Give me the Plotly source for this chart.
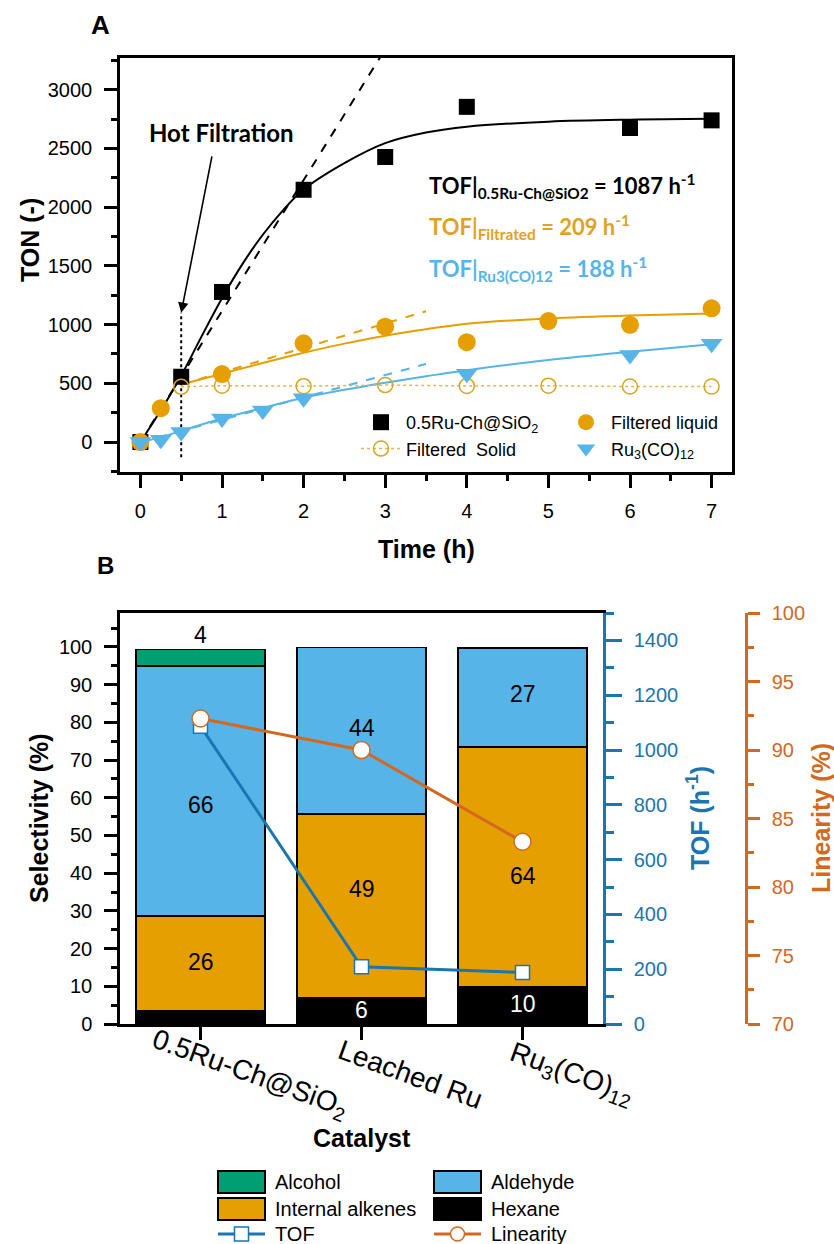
import plotly.graph_objects as go

W, H = 834, 1244
def fx(px):
    return px / W
def fy(py):
    return 1 - py / H

# ---------------- Panel A data ----------------
t_ru = [0, 0.5, 1, 2, 3, 4, 6, 7]
ton_ru = [0, 556, 1278, 2148, 2427, 2854, 2674, 2739]
t_liq = [0, 0.25, 1, 2, 3, 4, 5, 6, 7]
ton_liq = [0, 288, 579, 841, 982, 850, 1030, 998, 1139]
t_sol = [0.5, 1, 2, 3, 4, 5, 6, 7]
ton_sol = [470, 480, 476, 485, 478, 480, 473, 472]
t_ru3 = [0, 0.25, 0.5, 1, 1.5, 2, 4, 6, 7]
ton_ru3 = [0, 20, 85, 200, 268, 372, 582, 742, 836]

fit_ru_t = [0, 0.25, 0.5, 0.75, 1, 1.25, 1.5, 1.75, 2, 2.5, 3, 3.5, 4, 5, 6, 7]
fit_ru_ton = [0, 270, 565, 900, 1225, 1515, 1765, 1975, 2150, 2375, 2545, 2635, 2685, 2728, 2745, 2752]
fit_liq_t = [0.5, 1, 1.5, 2, 2.5, 3, 3.5, 4, 5, 6, 7]
fit_liq_ton = [490, 582, 673, 760, 838, 905, 960, 1008, 1052, 1078, 1095]
fit_ru3_t = [0, 0.25, 0.5, 1, 1.5, 2, 2.5, 3, 3.5, 4, 5, 6, 7]
fit_ru3_ton = [0, 42, 95, 200, 290, 378, 445, 505, 560, 612, 698, 768, 832]

tan_ru_t = [0, 2.95]
tan_ru_ton = [0, 3290]
tan_liq_t = [0.5, 3.5]
tan_liq_ton = [490, 1114]
tan_ru3_t = [0, 3.5]
tan_ru3_ton = [0, 665]

hot_filtration_t = 0.5
hot_line_ton = [-130, 1100]
hot_arrow_tail = (0.88, 2445)
tof_a = {"ru": 1087, "filt": 209, "ru3": 188}

# ---------------- Panel B data ----------------
catalysts = ["0.5Ru-Ch@SiO<sub>2</sub>", "Leached Ru", "Ru<sub>3</sub>(CO)<sub>12</sub>"]
hexane = [3.4, 6.9, 9.9]
alkenes = [25.2, 48.8, 63.5]
aldehyde = [66.4, 44.2, 26.3]
alcohol = [4.3, 0, 0]
hexane_lbl = ["", "6", "10"]
alkenes_lbl = ["26", "49", "64"]
aldehyde_lbl = ["66", "44", "27"]
alcohol_lbl = ["4", "", ""]
tof_b = [1087, 209, 188]
linearity = [92.3, 90.0, 83.3]

# label placement (selectivity units, layout only)
hexane_lbl_pos = [None, 3.8, 5.3]
alkenes_lbl_pos = [16.5, 35.8, 39.3]
aldehyde_lbl_pos = [58.2, 78.5, 87.4]

# ---------------- styles ----------------
BLACK = "black"
ORANGE = "#E69F00"
SKY = "#56B4E9"
GREEN = "#009E73"
TOFBLUE = "#1A75B0"
LINORG = "#D2691E"
FONT = "Liberation Sans, Arial, sans-serif"
TFONT = "Lato, Open Sans, sans-serif"

fig = go.Figure()

# ---- Panel A traces ----
fig.add_trace(go.Scatter(x=tan_ru_t, y=tan_ru_ton, mode="lines",
                         line=dict(color=BLACK, width=2, dash="dash"), showlegend=False))
fig.add_trace(go.Scatter(x=tan_liq_t, y=tan_liq_ton, mode="lines",
                         line=dict(color=ORANGE, width=2, dash="dash"), showlegend=False))
fig.add_trace(go.Scatter(x=tan_ru3_t, y=tan_ru3_ton, mode="lines",
                         line=dict(color=SKY, width=2, dash="dash"), showlegend=False))
fig.add_trace(go.Scatter(x=fit_ru_t, y=fit_ru_ton, mode="lines", line_shape="spline",
                         line=dict(color=BLACK, width=2), showlegend=False))
fig.add_trace(go.Scatter(x=fit_liq_t, y=fit_liq_ton, mode="lines", line_shape="spline",
                         line=dict(color=ORANGE, width=2), showlegend=False))
fig.add_trace(go.Scatter(x=fit_ru3_t, y=fit_ru3_ton, mode="lines", line_shape="spline",
                         line=dict(color=SKY, width=2), showlegend=False))
fig.add_trace(go.Scatter(x=[hot_filtration_t, hot_filtration_t], y=hot_line_ton, mode="lines",
                         line=dict(color=BLACK, width=2, dash="dot"), showlegend=False))

fig.add_trace(go.Scatter(x=t_ru, y=ton_ru, mode="markers", name="0.5Ru-Ch@SiO<sub>2</sub>",
                         marker=dict(symbol="square", size=16, color=BLACK),
                         legend="legend"))
fig.add_trace(go.Scatter(x=t_sol, y=ton_sol, mode="lines+markers", name="Filtered\u00a0 Solid",
                         line=dict(color="#E3B64F", width=1.5, dash="dot"),
                         marker=dict(symbol="circle-open", size=15, color="#D9A520", line=dict(width=1.5)),
                         legend="legend"))
fig.add_trace(go.Scatter(x=t_liq, y=ton_liq, mode="markers", name="Filtered liquid",
                         marker=dict(symbol="circle", size=18, color=ORANGE),
                         legend="legend2"))
fig.add_trace(go.Scatter(x=t_ru3, y=ton_ru3, mode="markers", name="Ru<sub>3</sub>(CO)<sub>12</sub>",
                         marker=dict(symbol="triangle-down", size=19, color=SKY),
                         legend="legend2"))

# ---- Panel B traces ----
xb = list(range(len(catalysts)))
for vals, col in [(hexane, BLACK), (alkenes, ORANGE), (aldehyde, SKY), (alcohol, GREEN)]:
    fig.add_trace(go.Bar(x=xb, y=vals, width=0.8, xaxis="x2", yaxis="y2",
                         marker=dict(color=col, line=dict(color=BLACK, width=1.5)),
                         showlegend=False))
fig.add_trace(go.Scatter(x=xb, y=tof_b, xaxis="x2", yaxis="y3", mode="lines+markers",
                         line=dict(color=TOFBLUE, width=3),
                         marker=dict(symbol="square", size=14, color="white",
                                     line=dict(color=TOFBLUE, width=1.5)),
                         showlegend=False))
fig.add_trace(go.Scatter(x=xb, y=linearity, xaxis="x2", yaxis="y4", mode="lines+markers",
                         line=dict(color=LINORG, width=3),
                         marker=dict(symbol="circle", size=17, color="white",
                                     line=dict(color=LINORG, width=1.5)),
                         showlegend=False))

annotations = []
# bar labels
for i in xb:
    for lbls, pos, c in [(hexane_lbl, hexane_lbl_pos, "white"),
                         (alkenes_lbl, alkenes_lbl_pos, BLACK),
                         (aldehyde_lbl, aldehyde_lbl_pos, BLACK)]:
        if lbls[i]:
            annotations.append(dict(x=i, y=pos[i], xref="x2", yref="y2", text=lbls[i],
                                    showarrow=False, font=dict(family=FONT, size=23, color=c)))
    if alcohol_lbl[i]:
        top = hexane[i] + alkenes[i] + aldehyde[i] + alcohol[i]
        annotations.append(dict(x=i, y=top, xref="x2", yref="y2", text=alcohol_lbl[i],
                                showarrow=False, yanchor="bottom", yshift=0,
                                font=dict(family=FONT, size=23, color=BLACK)))
# category labels
for i, c in enumerate(catalysts):
    annotations.append(dict(x=i, y=0, xref="x2", yref="y2", text=c, showarrow=False,
                            textangle=20, xshift=49, yshift=-50,
                            font=dict(family=FONT, size=28, color=BLACK)))

# titles
def ptext(x, y, text, size, color=BLACK, angle=0, bold=True, family=FONT, xanchor="center"):
    annotations.append(dict(x=fx(x), y=fy(y), xref="paper", yref="paper", text=text,
                            showarrow=False, textangle=angle, xanchor=xanchor, yanchor="middle",
                            font=dict(family=family, size=size, color=color,
                                      weight="bold" if bold else "normal")))

ptext(100, 25, "A", 26)
ptext(106, 565, "B", 24)
ptext(426, 549, "Time (h)", 25)
ptext(30, 240, "TON (-)", 25, angle=-90)
ptext(39, 818, "Selectivity (%)", 25, angle=-90)
ptext(362, 1138, "Catalyst", 25)
ptext(698, 818, "TOF (h<sup>-1</sup>)", 25, color=TOFBLUE, angle=-90)
ptext(821, 818, "Linearity (%)", 25, color=LINORG, angle=-90)
ptext(221, 132, "Hot Filtration", 24, family=TFONT)
ptext(427, 186, f"TOF|<sub>0.5Ru-Ch@SiO2</sub> = {tof_a['ru']} h<sup>-1</sup>", 22,
      family=TFONT, xanchor="left")
ptext(427, 227, f"TOF|<sub>Filtrated</sub> = {tof_a['filt']} h<sup>-1</sup>", 22,
      color="#E2A124", family=TFONT, xanchor="left")
ptext(427, 269, f"TOF|<sub>Ru3(CO)12</sub> = {tof_a['ru3']} h<sup>-1</sup>", 22,
      color=SKY, family=TFONT, xanchor="left")

# hot filtration arrow
annotations.append(dict(x=hot_filtration_t, y=hot_line_ton[1], xref="x", yref="y",
                        ax=hot_arrow_tail[0], ay=hot_arrow_tail[1], axref="x", ayref="y",
                        text="", showarrow=True, arrowhead=2, arrowsize=1.3, arrowwidth=1.6,
                        arrowcolor=BLACK))

# ---- Panel B manual legend ----
shapes = []
leg_rows = [1182, 1209, 1234]
leg_items = [
    (218, leg_rows[0], "box", GREEN, "Alcohol"),
    (434, leg_rows[0], "box", SKY, "Aldehyde"),
    (218, leg_rows[1], "box", ORANGE, "Internal alkenes"),
    (434, leg_rows[1], "box", BLACK, "Hexane"),
    (218, leg_rows[2], "sq", TOFBLUE, "TOF"),
    (434, leg_rows[2], "circ", LINORG, "Linearity"),
]
for x0, yc, kind, col, label in leg_items:
    if kind == "box":
        shapes.append(dict(type="rect", xref="paper", yref="paper",
                           x0=fx(x0), x1=fx(x0 + 47), y0=fy(yc + 11), y1=fy(yc - 11),
                           fillcolor=col, line=dict(color=BLACK, width=2)))
    else:
        shapes.append(dict(type="line", xref="paper", yref="paper",
                           x0=fx(x0), x1=fx(x0 + 47), y0=fy(yc), y1=fy(yc),
                           line=dict(color=col, width=3)))
        r = 7
        cx = x0 + 23.5
        shapes.append(dict(type="rect" if kind == "sq" else "circle", xref="paper", yref="paper",
                           x0=fx(cx - r), x1=fx(cx + r), y0=fy(yc + r), y1=fy(yc - r),
                           fillcolor="white", line=dict(color=col, width=1.5)))
    annotations.append(dict(x=fx(x0 + 55), y=fy(yc), xref="paper", yref="paper", text=label,
                            showarrow=False, xanchor="left", yanchor="middle",
                            font=dict(family=FONT, size=20, color=BLACK)))

axis_common = dict(showline=True, linewidth=2.5, linecolor=BLACK, ticks="outside",
                   tickwidth=2.5, tickcolor=BLACK, showgrid=False, zeroline=False,
                   automargin=False,
                   tickfont=dict(family=FONT, size=20, color=BLACK))

fig.update_layout(
    width=W, height=H, autosize=False,
    margin=dict(l=0, r=0, t=0, b=0, pad=0, autoexpand=False),
    paper_bgcolor="white", plot_bgcolor="white",
    barmode="stack",
    xaxis=dict(domain=[fx(120), fx(732)], anchor="y", range=[-0.25, 7.25], dtick=1, tick0=0,
               ticklen=13, mirror=True, ticklabelstandoff=6,
               minor=dict(ticks="outside", dtick=0.5, tick0=0, ticklen=6, tickwidth=2.5, tickcolor=BLACK),
               **axis_common),
    yaxis=dict(domain=[fy(472), fy(58)], anchor="x", range=[-255, 3270], dtick=500, tick0=0,
               ticklen=13, mirror=True, ticklabelstandoff=8,
               minor=dict(ticks="outside", dtick=250, tick0=0, ticklen=6, tickwidth=2.5, tickcolor=BLACK),
               **axis_common),
    xaxis2=dict(domain=[fx(120), fx(603)], anchor="y2", range=[-0.5, 2.5], tickvals=xb,
                showticklabels=False, ticklen=13, mirror=True, **axis_common),
    yaxis2=dict(domain=[fy(1024), fy(613)], anchor="x2", range=[0, 109], dtick=10, tick0=0,
                ticklen=13, ticklabelstandoff=8,
                minor=dict(ticks="outside", dtick=5, tick0=0, ticklen=6, tickwidth=2.5, tickcolor=BLACK),
                **axis_common),
    yaxis3=dict(overlaying="y2", anchor="x2", side="right", range=[0, 1500], dtick=200, tick0=0,
                showline=True, linewidth=2.5, linecolor=TOFBLUE, ticks="outside", ticklen=16,
                tickwidth=2.5, tickcolor=TOFBLUE, showgrid=False, zeroline=False, ticklabelstandoff=8,
                automargin=False,
                tickfont=dict(family=FONT, size=20, color=TOFBLUE),
                minor=dict(ticks="outside", dtick=100, tick0=0, ticklen=8, tickwidth=2.5, tickcolor=TOFBLUE)),
    yaxis4=dict(overlaying="y2", anchor="free", position=fx(746), side="right", range=[70, 100],
                dtick=5, tick0=70, ticklabelstandoff=8, automargin=False,
                showline=True, linewidth=2.5, linecolor=LINORG, ticks="outside", ticklen=12,
                tickwidth=2.5, tickcolor=LINORG, showgrid=False, zeroline=False,
                tickfont=dict(family=FONT, size=20, color=LINORG),
                minor=dict(ticks="outside", dtick=2.5, tick0=70, ticklen=6, tickwidth=2.5, tickcolor=LINORG)),
    legend=dict(x=fx(356), y=fy(404), xanchor="left", yanchor="top", bgcolor="rgba(0,0,0,0)",
                traceorder="normal",
                font=dict(family=FONT, size=18, color=BLACK), tracegroupgap=0, itemwidth=40),
    legend2=dict(x=fx(561), y=fy(404), xanchor="left", yanchor="top", bgcolor="rgba(0,0,0,0)",
                 traceorder="normal",
                 font=dict(family=FONT, size=18, color=BLACK), tracegroupgap=0, itemwidth=40),
    annotations=annotations,
    shapes=shapes,
)

fig.write_html("out.html", config={"displayModeBar": False},
               post_script="document.body.style.margin='0px';document.body.style.overflow='hidden';")
